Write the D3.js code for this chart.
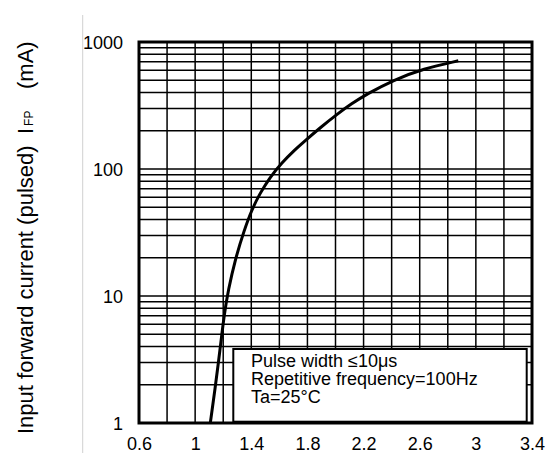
<!DOCTYPE html>
<html>
<head>
<meta charset="utf-8">
<script src="https://cdn.jsdelivr.net/npm/d3@7"></script>
<style>
  html, body { margin: 0; padding: 0; background: #fff; }
  svg { display: block; }
  text { font-family: "Liberation Sans", Arial, sans-serif; fill: #000; }
</style>
</head>
<body>
<svg id="chart" width="551" height="453"></svg>
<script>
// ---- data ----
const voltage = [1.108, 1.141, 1.177, 1.208, 1.236, 1.284, 1.350, 1.403, 1.462, 1.533, 1.617, 1.711, 1.783, 1.890, 2.009, 2.115, 2.222, 2.412, 2.626, 2.875];
const currentMA = [1, 1.82, 3.76, 7.31, 11.1, 19.2, 33.1, 47.6, 64.4, 86, 112, 142, 167, 211, 269, 327, 389, 501, 617, 711];
const xTickLabels = [0.6, 1, 1.4, 1.8, 2.2, 2.6, 3, 3.4];
const yTickLabels = [1, 10, 100, 1000];
const noteLines = ["Pulse width \u226410\u03bcs", "Repetitive frequency=100Hz", "Ta=25\u00b0C"];

// ---- layout ----
const pLeft = 139, pRight = 532, pTop = 42, pBottom = 423;
const svg = d3.select("#chart");

const x = d3.scaleLinear().domain([0.6, 3.4]).range([pLeft, pRight]);
const y = d3.scaleLog().domain([1, 1000]).range([pBottom, pTop]);

// light gray separator line
svg.append("line").attr("x1", 82.7).attr("x2", 82.7).attr("y1", 15).attr("y2", 453)
  .attr("stroke", "#d0d0d0").attr("stroke-width", 1);

// vertical grid (every 0.2 V)
const xGrid = d3.range(0, 15).map(i => 0.6 + i * 0.2);
svg.append("g").selectAll("line").data(xGrid).join("line")
  .attr("x1", d => x(d)).attr("x2", d => x(d))
  .attr("y1", pTop).attr("y2", pBottom)
  .attr("stroke", "#000").attr("stroke-width", 1.5);

// horizontal grid (log minor)
const yGrid = [];
[1, 10, 100].forEach(dec => { for (let m = 1; m <= 9; m++) yGrid.push(dec * m); });
yGrid.push(1000);
svg.append("g").selectAll("line").data(yGrid).join("line")
  .attr("x1", pLeft).attr("x2", pRight)
  .attr("y1", d => y(d)).attr("y2", d => y(d))
  .attr("stroke", "#000").attr("stroke-width", 1.5);

// frame
svg.append("rect").attr("x", pLeft).attr("y", pTop)
  .attr("width", pRight - pLeft).attr("height", pBottom - pTop)
  .attr("fill", "none").attr("stroke", "#000").attr("stroke-width", 3);

// curve
const data = voltage.map((v, i) => [v, currentMA[i]]);
svg.append("path").datum(data)
  .attr("d", d3.line().x(d => x(d[0])).y(d => y(d[1])).curve(d3.curveBasis))
  .attr("fill", "none").attr("stroke", "#000").attr("stroke-width", 3)
  .attr("stroke-linejoin", "round");

// note box
svg.append("rect").attr("x", 233.3).attr("y", 349)
  .attr("width", 526.7 - 233.3).attr("height", 421.7 - 349)
  .attr("fill", "#fff").attr("stroke", "#000").attr("stroke-width", 2);
svg.append("g").selectAll("text").data(noteLines).join("text")
  .attr("x", 251).attr("y", (d, i) => 366.7 + i * 18.3)
  .attr("font-size", 18).text(d => d);

// axis tick labels
const xAxis = d3.axisBottom(x).tickValues(xTickLabels).tickSize(0).tickFormat(d3.format("~g"));
const gx = svg.append("g").attr("transform", `translate(0,${pBottom})`).call(xAxis);
gx.select(".domain").remove();
gx.selectAll("text").attr("font-size", 18).attr("y", 0).attr("dy", 0)
  .attr("transform", "translate(0,27)").attr("font-family", "Liberation Sans, Arial, sans-serif");

const yAxis = d3.axisLeft(y).tickValues(yTickLabels).tickSize(0).tickFormat(d3.format("~g"));
const gy = svg.append("g").attr("transform", `translate(${pLeft},0)`).call(yAxis);
gy.select(".domain").remove();
gy.selectAll("text").attr("font-size", 18).attr("x", -16).attr("dy", "0.35em")
  .attr("font-family", "Liberation Sans, Arial, sans-serif");

// y title (rotated)
const tg = svg.append("g");
tg.append("text").attr("transform", "translate(33,434) rotate(-90)")
  .attr("font-size", 22).text("Input forward current (pulsed)");
const ifp = tg.append("text").attr("transform", "translate(33,134) rotate(-90)").attr("font-size", 22);
ifp.append("tspan").text("I");
ifp.append("tspan").attr("font-size", 12).attr("dx", 2).text("FP");
tg.append("text").attr("transform", "translate(33,89) rotate(-90)")
  .attr("font-size", 22).text("(mA)");
</script>
</body>
</html>
